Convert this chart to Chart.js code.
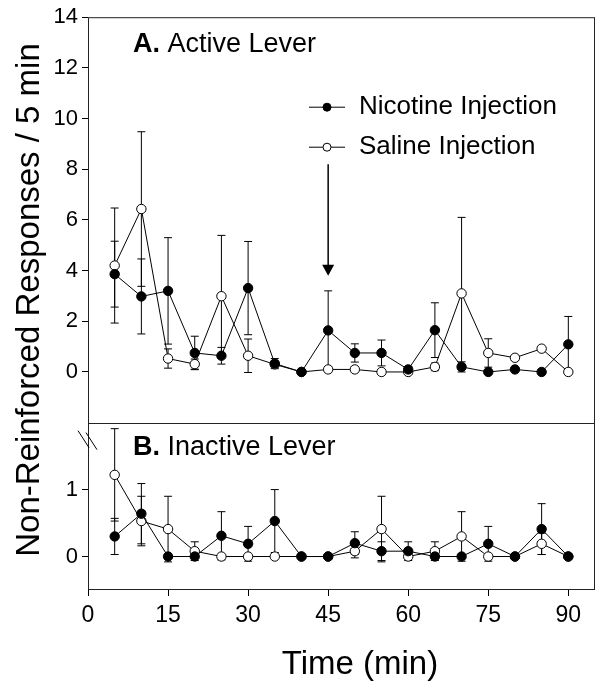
<!DOCTYPE html>
<html>
<head>
<meta charset="utf-8">
<script src="https://cdn.jsdelivr.net/npm/chart.js@4.4.1/dist/chart.umd.min.js"></script>
<style>
  html, body { margin: 0; padding: 0; background: #fff; }
  #grafico { display: block; }
</style>
</head>
<body>
<canvas id="grafico" width="602" height="689"></canvas>
<script>
// Dados (media e erro padrao por bloco de 5 min)
const tempos = [5, 10, 15, 20, 25, 30, 35, 40, 45, 50, 55, 60, 65, 70, 75, 80, 85, 90];

// A. alavanca ativa
const nicotinaAtiva     = [3.86, 2.98, 3.2, 0.75, 0.64, 3.31, 0.33, 0, 1.64, 0.75, 0.75, 0.1, 1.65, 0.2, 0, 0.1, 0, 1.09];
const nicotinaAtivaErro = [1.3, 1.48, 2.1, 0.66, 0.33, 1.84, 0.2, 0, 1.56, 0.36, 0.51, 0.1, 1.08, 0.2, 0, 0.05, 0, 1.1];
const salinaAtiva       = [4.2, 6.43, 0.53, 0.31, 2.99, 0.64, 0.3, 0, 0.1, 0.1, 0, 0, 0.2, 3.1, 0.75, 0.56, 0.92, 0];
const salinaAtivaErro   = [2.27, 3.05, 0.38, 0.2, 2.4, 0.66, 0.1, 0, 0.1, 0.1, 0, 0, 0.15, 3.0, 0.56, 0.1, 0.05, 0];

// B. alavanca inativa
const nicotinaInativa     = [0.3, 0.64, 0, 0, 0.31, 0.19, 0.53, 0, 0, 0.2, 0.08, 0.08, 0, 0, 0.19, 0, 0.41, 0];
const nicotinaInativaErro = [0.27, 0.45, 0, 0, 0.36, 0.26, 0.47, 0, 0, 0.17, 0.14, 0.14, 0, 0, 0.26, 0, 0.38, 0];
const salinaInativa       = [1.22, 0.53, 0.41, 0.08, 0, 0, 0, 0, 0, 0.08, 0.41, 0, 0.08, 0.3, 0, 0, 0.19, 0];
const salinaInativaErro   = [0.69, 0.37, 0.49, 0.14, 0, 0, 0, 0, 0, 0.1, 0.49, 0, 0.14, 0.37, 0, 0, 0.16, 0];

const ticksX = [0, 15, 30, 45, 60, 75, 90];
const ticksAtiva = [0, 2, 4, 6, 8, 10, 12, 14];
const ticksInativa = [0, 1];

const nomesSeries = ['Nicotine Injection', 'Saline Injection'];
const seta = { tempo: 45, de: 8.2, ate: 3.8 };

const fonte = "'Liberation Sans', Arial, sans-serif";

function pontos(valores) {
    return tempos.map((t, i) => ({ x: t, y: valores[i] }));
}

function serie(nome, valores, eixo, cheio) {
    return {
        label: nome,
        data: pontos(valores),
        yAxisID: eixo,
        borderColor: '#000',
        borderWidth: 1,
        tension: 0,
        pointRadius: 4.7,
        pointHoverRadius: 4.7,
        pointBorderWidth: 1,
        pointBorderColor: '#000',
        pointBackgroundColor: cheio ? '#000' : '#fff',
        clip: false
    };
}

function eixoY(min, max, lista, pesoPilha, peso) {
    return {
        type: 'linear',
        position: 'left',
        stack: 'paineis',
        stackWeight: pesoPilha,
        weight: peso,
        min: min,
        max: max,
        afterBuildTicks: function (eixo) {
            eixo.ticks = lista.map(v => ({ value: v }));
        },
        afterFit: function (eixo) { eixo.width = 88; },
        ticks: { color: '#000', font: { family: fonte, size: 22 }, padding: 4 },
        grid: { drawOnChartArea: false, tickLength: 6, color: '#000' },
        border: { display: false }
    };
}

// barras de erro desenhadas antes das linhas para os marcadores ficarem por cima
function desenharErros(ctx, chart, idEixo, valores, erros) {
    const ex = chart.scales.x;
    const ey = chart.scales[idEixo];
    for (let i = 0; i < tempos.length; i++) {
        if (!erros[i]) continue;
        const x = ex.getPixelForValue(tempos[i]);
        const yAlto = ey.getPixelForValue(valores[i] + erros[i]);
        const yBaixo = ey.getPixelForValue(valores[i] - erros[i]);
        ctx.beginPath();
        ctx.moveTo(x, yAlto); ctx.lineTo(x, yBaixo);
        ctx.moveTo(x - 4, yAlto); ctx.lineTo(x + 4, yAlto);
        ctx.moveTo(x - 4, yBaixo); ctx.lineTo(x + 4, yBaixo);
        ctx.stroke();
    }
}

const extras = {
    id: 'extras',
    beforeDatasetsDraw: function (chart) {
        const ctx = chart.ctx;
        ctx.save();
        ctx.strokeStyle = '#000';
        ctx.lineWidth = 1;
        desenharErros(ctx, chart, 'yAtiva', salinaAtiva, salinaAtivaErro);
        desenharErros(ctx, chart, 'yAtiva', nicotinaAtiva, nicotinaAtivaErro);
        desenharErros(ctx, chart, 'yInativa', salinaInativa, salinaInativaErro);
        desenharErros(ctx, chart, 'yInativa', nicotinaInativa, nicotinaInativaErro);
        ctx.restore();
    },
    afterDraw: function (chart) {
        const ctx = chart.ctx;
        const area = chart.chartArea;
        const ex = chart.scales.x;
        const yA = chart.scales.yAtiva;
        const yB = chart.scales.yInativa;
        ctx.save();

        // moldura e divisao entre paineis
        ctx.strokeStyle = '#222';
        ctx.lineWidth = 1;
        ctx.strokeRect(area.left + 0.5, area.top + 0.5, area.right - area.left - 1, area.bottom - area.top - 1);
        const divisa = Math.round(yA.bottom) + 0.5;
        ctx.beginPath();
        ctx.moveTo(area.left, divisa);
        ctx.lineTo(area.right, divisa);
        ctx.stroke();

        // marca de quebra no eixo (duas barras paralelas)
        ctx.strokeStyle = '#000';
        ctx.beginPath();
        ctx.moveTo(area.left - 10, yB.top + 8); ctx.lineTo(area.left + 1, yB.top + 25);
        ctx.moveTo(area.left - 2, yB.top + 10); ctx.lineTo(area.left + 9, yB.top + 27);
        ctx.stroke();

        // seta em 45 min
        const xs = ex.getPixelForValue(seta.tempo);
        const yIni = yA.getPixelForValue(seta.de);
        const yFim = yA.getPixelForValue(seta.ate);
        ctx.lineWidth = 1.5;
        ctx.beginPath();
        ctx.moveTo(xs, yIni);
        ctx.lineTo(xs, yFim - 10);
        ctx.stroke();
        ctx.fillStyle = '#000';
        ctx.beginPath();
        ctx.moveTo(xs - 6, yFim - 11);
        ctx.lineTo(xs + 6, yFim - 11);
        ctx.lineTo(xs, yFim);
        ctx.closePath();
        ctx.fill();

        // rotulos dos paineis
        ctx.textBaseline = 'alphabetic';
        ctx.textAlign = 'left';
        function rotulo(letra, texto, x, y) {
            ctx.font = 'bold 27px ' + fonte;
            ctx.fillText(letra, x, y);
            const w = ctx.measureText(letra + ' ').width;
            ctx.font = '27px ' + fonte;
            ctx.fillText(texto, x + w, y);
        }
        rotulo('A.', 'Active Lever', area.left + 45, area.top + 35);
        rotulo('B.', 'Inactive Lever', area.left + 45, yB.top + 32);

        // legenda
        ctx.lineWidth = 1;
        ctx.font = '26px ' + fonte;
        ctx.textBaseline = 'middle';
        for (let i = 0; i < nomesSeries.length; i++) {
            const y = area.top + 90 + i * 40;
            const x0 = area.left + 221;
            ctx.beginPath();
            ctx.moveTo(x0, y); ctx.lineTo(x0 + 36, y);
            ctx.stroke();
            ctx.beginPath();
            ctx.arc(x0 + 18, y, 4, 0, Math.PI * 2);
            ctx.fillStyle = i === 0 ? '#000' : '#fff';
            ctx.fill();
            ctx.stroke();
            ctx.fillStyle = '#000';
            ctx.fillText(nomesSeries[i], x0 + 50, y);
        }

        // titulos dos eixos
        ctx.font = '33px ' + fonte;
        ctx.textAlign = 'center';
        ctx.fillText('Time (min)', area.left + 272, 665);
        ctx.translate(30, 300);
        ctx.rotate(-Math.PI / 2);
        ctx.fillText('Non-Reinforced Responses / 5 min', 0, 0);
        ctx.restore();
    }
};

const ctx = document.getElementById('grafico').getContext('2d');
const grafico = new Chart(ctx, {
    type: 'line',
    data: {
        datasets: [
            serie(nomesSeries[0], nicotinaAtiva, 'yAtiva', true),
            serie(nomesSeries[0], nicotinaInativa, 'yInativa', true),
            serie(nomesSeries[1], salinaAtiva, 'yAtiva', false),
            serie(nomesSeries[1], salinaInativa, 'yInativa', false)
        ]
    },
    options: {
        responsive: false,
        animation: false,
        devicePixelRatio: 1,
        layout: { padding: { left: 0, top: 15, right: 7, bottom: 0 } },
        plugins: { legend: { display: false }, tooltip: { enabled: false } },
        scales: {
            x: {
                type: 'linear',
                min: 0,
                max: 95,
                afterBuildTicks: function (eixo) {
                    eixo.ticks = ticksX.map(v => ({ value: v }));
                },
                afterFit: function (eixo) { eixo.height = 99; },
                ticks: { color: '#000', font: { family: fonte, size: 23 }, padding: 6 },
                grid: { drawOnChartArea: false, tickLength: 6, color: '#000' },
                border: { display: false }
            },
            yAtiva: eixoY(-2, 14, ticksAtiva, 407, 2),
            yInativa: eixoY(-0.5, 2, ticksInativa, 168, 1)
        }
    },
    plugins: [extras]
});
</script>
</body>
</html>
